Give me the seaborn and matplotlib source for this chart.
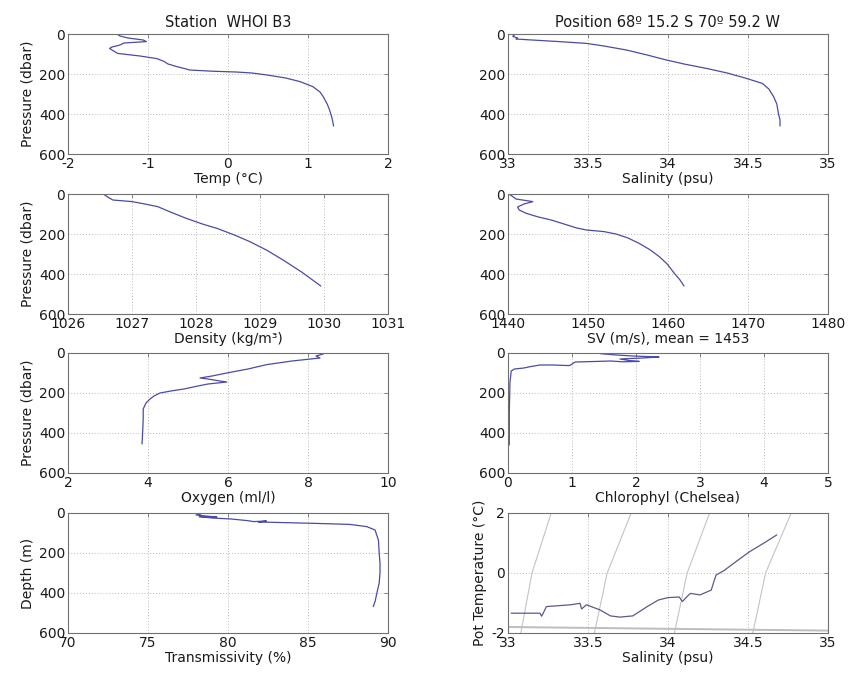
import numpy as np
import pandas as pd
import matplotlib
matplotlib.use("Agg")
import matplotlib.pyplot as plt
import seaborn as sns

# ---------------- data ----------------
temp_p = [0, 10, 20, 30, 38, 45, 55, 65, 72, 80, 97, 110, 123, 137, 150, 163, 172, 180,
          186, 190, 195, 205, 220, 238, 263, 290, 313, 350, 380, 420, 460]
temp_v = [-1.39, -1.35, -1.25, -1.06, -1.02, -1.30, -1.35, -1.45, -1.48, -1.45, -1.38, -1.1,
          -0.89, -0.8, -0.75, -0.64, -0.55, -0.48, -0.2, 0.1, 0.3, 0.49, 0.72, 0.9, 1.06,
          1.15, 1.19, 1.24, 1.27, 1.3, 1.32]

sal_p = [0, 5, 12, 20, 25, 30, 38, 47, 60, 80, 105, 130, 150, 172, 195, 222, 247, 275,
         313, 350, 397, 430, 460]
sal_v = [33.02, 33.04, 33.03, 33.06, 33.05, 33.15, 33.32, 33.49, 33.6, 33.74, 33.87, 33.99,
         34.1, 34.24, 34.37, 34.49, 34.59, 34.63, 34.66, 34.68, 34.69, 34.7, 34.7]

dens_p = [0, 15, 30, 38, 50, 63, 90, 122, 150, 172, 205, 238, 280, 330, 390, 460]
dens_v = [1026.55, 1026.62, 1026.7, 1027.0, 1027.2, 1027.4, 1027.6, 1027.85, 1028.1,
          1028.33, 1028.6, 1028.84, 1029.1, 1029.36, 1029.65, 1029.95]

sv_p = [0, 10, 25, 38, 50, 65, 80, 97, 115, 130, 150, 170, 180, 188, 200, 220, 247, 280,
        313, 350, 397, 430, 460]
sv_v = [1440.1, 1440.5, 1441.0, 1443.1, 1442.0, 1441.2, 1441.4, 1442.3, 1443.8, 1445.4,
        1447.0, 1448.6, 1449.8, 1452.0, 1453.5, 1455.0, 1456.4, 1457.8, 1458.9, 1459.9,
        1460.8, 1461.5, 1462.0]

oxy_p = [5, 15, 25, 40, 58, 80, 100, 115, 125, 130, 140, 145, 155, 167, 180, 188, 200, 215,
         230, 250, 280, 330, 380, 420, 455]
oxy_v = [8.38, 8.2, 8.3, 7.6, 6.97, 6.5, 5.97, 5.6, 5.3, 5.5, 5.8, 5.97, 5.5, 5.2, 4.9, 4.63,
         4.3, 4.15, 4.05, 3.95, 3.88, 3.88, 3.87, 3.86, 3.85]

chl_p = [3, 5, 10, 15, 18, 20, 25, 30, 38, 42, 44, 40, 42, 45, 55, 63, 60, 60, 68, 75, 80,
         90, 150, 300, 460]
chl_v = [1.44, 1.5, 1.7, 1.95, 2.2, 2.36, 2.1, 1.75, 1.9, 2.05, 1.8, 1.6, 1.4, 1.05, 1.0,
         0.96, 0.7, 0.5, 0.35, 0.25, 0.1, 0.05, 0.03, 0.02, 0.02]

tr_p = [5, 10, 15, 20, 18, 25, 30, 38, 43, 40, 45, 48, 52, 57, 68, 85, 135, 200, 252, 300,
        350, 402, 440, 468]
tr_v = [78.3, 78.0, 78.6, 79.3, 78.2, 79.0, 80.2, 81.2, 81.6, 82.4, 81.9, 83.5, 85.5, 87.6,
        88.67, 89.19, 89.4, 89.45, 89.5, 89.5, 89.45, 89.3, 89.2, 89.08]

ts_s = [33.02, 33.2, 33.21, 33.22, 33.24, 33.39, 33.45, 33.46, 33.49, 33.575, 33.64, 33.7,
        33.78, 33.87, 33.94, 34.0, 34.07, 34.09, 34.12, 34.14, 34.2, 34.27, 34.3, 34.35,
        34.43, 34.51, 34.6, 34.68]
ts_t = [-1.34, -1.34, -1.44, -1.34, -1.12, -1.06, -1.01, -1.2, -1.06, -1.23, -1.43, -1.47,
        -1.43, -1.12, -0.9, -0.82, -0.8, -0.95, -0.78, -0.68, -0.73, -0.57, -0.07, 0.08,
        0.4, 0.71, 1.0, 1.27]

# isopycnal guide lines in the T-S panel (salinity at theta = -2, 0, 2)
iso_t = [-2, 0, 2]
iso_s1 = [33.08, 33.15, 33.27]
iso_s2 = [33.54, 33.62, 33.77]
iso_s3 = [34.04, 34.12, 34.26]
iso_s4 = [34.53, 34.61, 34.77]
# freezing-point line
frz_s = [33.0, 35.0]
frz_t = [-1.80, -1.92]

temp_ticks = [-2, -1, 0, 1, 2]
sal_ticks = [33, 33.5, 34, 34.5, 35]
dens_ticks = [1026, 1027, 1028, 1029, 1030, 1031]
sv_ticks = [1440, 1450, 1460, 1470, 1480]
oxy_ticks = [2, 4, 6, 8, 10]
chl_ticks = [0, 1, 2, 3, 4, 5]
tr_ticks = [70, 75, 80, 85, 90]
p_ticks = [0, 200, 400, 600]
th_ticks = [-2, 0, 2]

# ---------------- styling ----------------
sns.set_style("white")
plt.rcParams['font.family'] = ['DejaVu Sans']
plt.rcParams['font.size'] = 10

LINE = "#4b4ba6"
FRAME = "#707070"
GRID = "#b8b8b8"
TXT = "#1a1a1a"

fig = plt.figure(figsize=(8.52, 6.73), dpi=100)


def make_ax(px_left, px_top):
    return fig.add_axes([px_left / 852, 1 - (px_top + 120) / 673, 320 / 852, 120 / 673])


def style(ax, xt, yt, xlim, ylim):
    ax.set_xlim(*xlim)
    ax.set_ylim(*ylim)
    ax.set_xticks(xt)
    ax.set_yticks(yt)
    ax.set_xticklabels([f"{v:g}" for v in xt])
    ax.set_yticklabels([f"{v:g}" for v in yt])
    ax.grid(True, linestyle=(0, (1, 2)), color=GRID, linewidth=0.7)
    ax.tick_params(direction="in", length=3, width=0.6, top=True, right=True,
                   colors=FRAME, labelcolor=TXT, labelsize=10, pad=2)
    for sp in ax.spines.values():
        sp.set_color(FRAME)
        sp.set_linewidth(0.8)
    ax.set_xlabel("")
    ax.set_ylabel("")


def profile(ax, vals, pres):
    sns.lineplot(x=vals, y=pres, sort=False, estimator=None, ax=ax,
                 color=LINE, linewidth=0.9)


L, R = 68, 508
tops = [34, 194, 353, 513]

# Row 1
ax1 = make_ax(L, tops[0])
profile(ax1, temp_v, temp_p)
style(ax1, temp_ticks, p_ticks, (-2, 2), (600, 0))
ax1.set_title("Station  WHOI B3", fontsize=10.5, color=TXT, pad=5)
ax1.set_xlabel("Temp (°C)", color=TXT, labelpad=1)
ax1.set_ylabel("Pressure (dbar)", color=TXT, labelpad=3)

ax2 = make_ax(R, tops[0])
profile(ax2, sal_v, sal_p)
style(ax2, sal_ticks, p_ticks, (33, 35), (600, 0))
ax2.set_title("Position 68º 15.2 S 70º 59.2 W", fontsize=10.5, color=TXT, pad=5)
ax2.set_xlabel("Salinity (psu)", color=TXT, labelpad=1)

# Row 2
ax3 = make_ax(L, tops[1])
profile(ax3, dens_v, dens_p)
style(ax3, dens_ticks, p_ticks, (1026, 1031), (600, 0))
ax3.set_xlabel("Density (kg/m³)", color=TXT, labelpad=1)
ax3.set_ylabel("Pressure (dbar)", color=TXT, labelpad=3)

ax4 = make_ax(R, tops[1])
profile(ax4, sv_v, sv_p)
style(ax4, sv_ticks, p_ticks, (1440, 1480), (600, 0))
ax4.set_xlabel("SV (m/s), mean = 1453", color=TXT, labelpad=1)

# Row 3
ax5 = make_ax(L, tops[2])
profile(ax5, oxy_v, oxy_p)
style(ax5, oxy_ticks, p_ticks, (2, 10), (600, 0))
ax5.set_xlabel("Oxygen (ml/l)", color=TXT, labelpad=1)
ax5.set_ylabel("Pressure (dbar)", color=TXT, labelpad=3)

ax6 = make_ax(R, tops[2])
profile(ax6, chl_v, chl_p)
style(ax6, chl_ticks, p_ticks, (0, 5), (600, 0))
ax6.set_xlabel("Chlorophyl (Chelsea)", color=TXT, labelpad=1)

# Row 4
ax7 = make_ax(L, tops[3])
profile(ax7, tr_v, tr_p)
style(ax7, tr_ticks, p_ticks, (70, 90), (600, 0))
ax7.set_xlabel("Transmissivity (%)", color=TXT, labelpad=1)
ax7.set_ylabel("Depth (m)", color=TXT, labelpad=3)

ax8 = make_ax(R, tops[3])
for s_iso in (iso_s1, iso_s2, iso_s3, iso_s4):
    sns.lineplot(x=s_iso, y=iso_t, sort=False, estimator=None, ax=ax8,
                 color="#c4c4c4", linewidth=0.8)
sns.lineplot(x=frz_s, y=frz_t, sort=False, estimator=None, ax=ax8,
             color="#bdbdbd", linewidth=1.4)
sns.lineplot(x=ts_s, y=ts_t, sort=False, estimator=None, ax=ax8,
             color="#5a5a8a", linewidth=0.9)
style(ax8, sal_ticks, th_ticks, (33, 35), (-2, 2))
ax8.set_xlabel("Salinity (psu)", color=TXT, labelpad=1)
ax8.set_ylabel("Pot Temperature (°C)", color=TXT, labelpad=3)

fig.savefig("out.png", dpi=100)
